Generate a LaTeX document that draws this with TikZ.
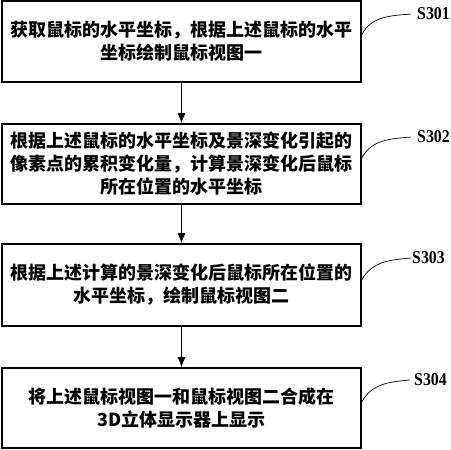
\documentclass[tikz,border=0pt]{standalone}
\usepackage{fontspec}
\newfontfamily\cjk{Noto Sans CJK SC}
\newfontfamily\lblfont[FakeStretch=0.88]{Liberation Serif}
\usetikzlibrary{arrows.meta}
\tikzset{
  stepbox/.style={draw, line width=1.6pt, minimum width=359pt, inner sep=0pt, align=center,
    font=\cjk\bfseries\fontsize{18}{23}\selectfont},
  flow/.style={line width=0.9pt, -{Latex[length=10pt,width=8pt]}},
  steplbl/.style={anchor=west, inner sep=0pt, font=\lblfont\bfseries\fontsize{18}{18}\selectfont},
  leader/.style={line width=0.7pt}
}
\begin{document}
\begin{tikzpicture}[x=1pt,y=-1pt]
\useasboundingbox (0,0) rectangle (451,450);
\node[stepbox, minimum height=81pt] (b1) at (181.5,41.5) {获取鼠标的水平坐标，根据上述鼠标的水平\\坐标绘制鼠标视图一};
\node[stepbox, minimum height=80pt] (b2) at (181.5,164) {根据上述鼠标的水平坐标及景深变化引起的\\像素点的累积变化量，计算景深变化后鼠标\\所在位置的水平坐标};
\node[stepbox, minimum height=82pt] (b3) at (181.5,285) {根据上述计算的景深变化后鼠标所在位置的\\水平坐标，绘制鼠标视图二};
\node[stepbox, minimum height=80pt] (b4) at (181.5,408) {将上述鼠标视图一和鼠标视图二合成在\\3D立体显示器上显示};
\draw[flow] (b1.south) -- (b2.north);
\draw[flow] (b2.south) -- (b3.north);
\draw[flow] (b3.south) -- (b4.north);
\node[steplbl] (s1) at (417,14) {S301};
\node[steplbl] (s2) at (417,137) {S302};
\node[steplbl] (s3) at (412,258) {S303};
\node[steplbl] (s4) at (414,380) {S304};
\draw[leader] ([yshift=7pt]b1.east) to[out=62,in=185] ([xshift=-6pt]s1.west);
\draw[leader] ([yshift=6pt]b2.east) to[out=62,in=185] ([xshift=-6pt]s2.west);
\draw[leader] ([yshift=5pt]b3.east) to[out=62,in=185] ([xshift=-1pt]s3.west);
\draw[leader] ([yshift=6pt]b4.east) to[out=62,in=185] ([xshift=-4pt]s4.west);
\end{tikzpicture}
\end{document}
